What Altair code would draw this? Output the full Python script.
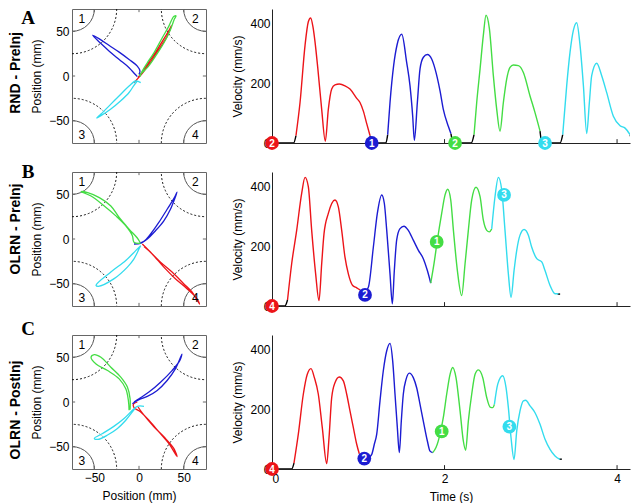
import altair as alt
import pandas as pd

# ------------------------------------------------------------------ colours
COLOR_DOMAIN = ["black", "red", "blue", "green", "cyan"]
COLOR_RANGE = ["#000000", "#ec1419", "#1c1cd2", "#44dd44", "#33dcee"]

# ------------------------------------------------------------------ target layout (mm)
TARGET_X = [-75, 75, -75, 75]
TARGET_Y = [75, 75, -75, -75]
CORNER_LBL = ["1", "2", "3", "4"]
CORNER_LBL_X = [-64, 63, -64, 63]
CORNER_LBL_Y = [64, 64, -66, -66]
POS_TICKS = [-50, 0, 50]
TIME_TICKS = [0, 2, 4]
VEL_TICKS = [0, 200, 400]

# ------------------------------------------------------------------ A: trajectories (mm)
A_red_x = [-5.6, 3.7, 11.1, 18.5, 25.9, 31.5, 36.3, 34.4, 27.8, 20.4, 13.0, 5.6, -1.1]
A_red_y = [-7.4, 3.0, 13.0, 24.1, 35.2, 44.4, 56.3, 52.6, 41.5, 29.6, 18.5, 7.4, -1.9]
A_green_x = [0.0, 9.3, 18.5, 27.8, 35.2, 39.6, 41.5, 38.9, 33.3, 25.9, 16.7, 9.3, 3.7, 1.1]
A_green_y = [0.7, 9.3, 22.2, 37.0, 51.9, 63.7, 67.4, 66.7, 55.6, 42.6, 25.9, 14.8, 5.6, -0.7]
A_blue_x = [-1.9, -4.4, -11.1, -22.2, -33.3, -42.6, -51.9, -44.4, -33.3, -22.2, -11.1, -1.9, 1.1, 0.0]
A_blue_y = [-0.7, 1.9, 9.3, 18.5, 27.8, 36.3, 45.6, 41.5, 34.1, 26.7, 18.5, 11.1, 5.6, 1.9]
A_cyan_x = [1.9, -3.7, -11.1, -20.4, -31.5, -42.6, -47.4, -42.6, -31.5, -20.4, -11.1, -5.6, -1.9]
A_cyan_y = [-7.4, -5.6, -11.1, -20.4, -31.5, -42.6, -47.0, -44.4, -37.0, -27.8, -18.5, -10.4, -5.6]

# ------------------------------------------------------------------ B: trajectories (mm)
B_red_x = [3.7, 13.0, 24.1, 37.0, 50.0, 59.3, 67.8, 64.8, 53.7, 40.7, 27.8, 14.8, 5.6]
B_red_y = [-5.6, -14.8, -25.9, -37.0, -50.0, -59.3, -73.0, -66.7, -55.6, -44.4, -31.5, -16.7, -8.5]
B_blue_x = [-5.6, 1.9, 9.3, 18.5, 27.8, 35.2, 42.6, 39.6, 31.5, 22.2, 13.0, 5.6, -1.9]
B_blue_y = [-5.6, -4.8, 0.0, 9.3, 20.4, 33.3, 52.6, 46.3, 33.3, 18.5, 5.6, -2.6, -5.6]
B_green_x = [1.9, -5.6, -7.4, -14.8, -25.9, -38.9, -53.7, -64.8, -57.4, -44.4, -31.5, -22.2, -11.1, -1.9, 1.1]
B_green_y = [-4.8, -3.7, 3.7, 14.8, 25.9, 37.0, 48.1, 53.0, 51.9, 46.3, 37.0, 24.1, 11.1, 1.1, -3.7]
B_cyan_x = [1.9, -3.7, -14.8, -31.5, -48.1, -45.6, -27.8, -13.0, -5.6, 0.0, 1.9]
B_cyan_y = [-7.4, -13.0, -24.1, -37.0, -51.9, -53.0, -44.4, -31.5, -22.2, -11.1, -7.4]

# ------------------------------------------------------------------ C: trajectories (mm)
C_green_x = [-11.1, -11.9, -14.8, -22.2, -35.2, -48.1, -53.7, -50.0, -42.6, -31.5, -20.4, -13.0, -10.0, -10.0]
C_green_y = [-9.3, 1.9, 14.8, 25.9, 35.2, 42.6, 50.0, 53.0, 50.0, 38.9, 27.8, 16.7, 3.7, -8.5]
C_blue_x = [-7.4, 0.0, 9.3, 20.4, 31.5, 40.7, 48.1, 45.6, 37.0, 24.1, 11.1, 0.0, -5.6]
C_blue_y = [-1.9, 2.6, 6.3, 13.0, 24.1, 37.0, 53.7, 46.3, 35.2, 22.2, 11.1, 3.7, 0.0]
C_red_x = [-1.9, -6.3, -5.6, 1.9, 11.1, 22.2, 33.3, 42.6, 38.9, 27.8, 16.7, 5.6, -1.1]
C_red_y = [0.0, -2.6, -6.3, -11.1, -20.4, -33.3, -46.3, -61.1, -51.9, -38.9, -27.8, -14.8, -5.6]
C_cyan_x = [5.6, -1.9, -7.4, -16.7, -27.8, -40.7, -50.0, -46.3, -35.2, -24.1, -14.8, -7.4, -3.7]
C_cyan_y = [-4.8, -4.8, -9.3, -18.5, -27.0, -35.2, -40.7, -41.9, -37.0, -29.6, -20.4, -11.1, -6.3]

# ------------------------------------------------------------------ A: velocity (s, mm/s)
A_black = [([0, 0.25, 0.278], [0, 0, 25]),
           ([1.136, 1.16, 1.32, 1.341], [25, 0, 0, 28]),
           ([2.075, 2.10, 2.31, 2.342], [31, 0, 0, 28]),
           ([3.107, 3.13, 3.34, 3.370], [40, 0, 0, 28]),
           ([4.151, 4.19, 4.30], [28, 0, 0])]
A_red_t = [0.278, 0.325, 0.383, 0.421, 0.448, 0.475, 0.499, 0.530, 0.576, 0.618, 0.653, 0.692, 0.730, 0.780, 0.846, 0.904, 0.982, 1.020, 1.059, 1.098, 1.136]
A_red_v = [25, 136, 328, 407, 420, 390, 339, 254, 113, 6, 113, 181, 195, 198, 192, 181, 150, 136, 107, 65, 25]
A_blue_t = [1.341, 1.368, 1.41, 1.45, 1.504, 1.561, 1.600, 1.631, 1.650, 1.685, 1.716, 1.755, 1.801, 1.851, 1.890, 1.948, 1.986, 2.044, 2.075]
A_blue_v = [28, 136, 260, 330, 365, 271, 192, 90, 9, 136, 249, 288, 297, 282, 249, 175, 113, 56, 31]
A_green_t = [2.342, 2.373, 2.412, 2.450, 2.481, 2.520, 2.566, 2.605, 2.643, 2.682, 2.721, 2.759, 2.798, 2.856, 2.914, 2.991, 3.049, 3.107]
A_green_v = [28, 136, 249, 362, 429, 384, 226, 113, 40, 136, 215, 254, 262, 260, 237, 158, 102, 40]
A_cyan_t = [3.370, 3.416, 3.455, 3.494, 3.532, 3.571, 3.610, 3.648, 3.679, 3.706, 3.764, 3.822, 3.880, 3.957, 4.035, 4.093, 4.151]
A_cyan_v = [28, 192, 305, 379, 404, 328, 192, 32, 136, 226, 268, 226, 169, 90, 58, 50, 28]
A_mark_t = [0, 1.156, 2.122, 3.165]
A_mark_v = [0, 0, 0, 0]
A_mark_lbl = ["2", "1", "2", "3"]

# ------------------------------------------------------------------ B: velocity
B_black = [([0, 0.15, 0.18], [0, 0, 20]),
           ([3.31, 3.34], [40, 40])]
B_red_t = [0.18, 0.228, 0.286, 0.344, 0.383, 0.421, 0.460, 0.506, 0.545, 0.576, 0.603, 0.653, 0.730, 0.769, 0.808, 0.846, 0.885, 0.935, 0.982, 1.020]
B_red_v = [20, 142, 254, 378, 432, 401, 254, 108, 18, 142, 243, 311, 356, 333, 254, 164, 108, 69, 61, 54]
B_blue_t = [1.020, 1.067, 1.117, 1.175, 1.221, 1.272, 1.302, 1.330, 1.368, 1.395, 1.418, 1.445, 1.484, 1.530, 1.580, 1.638, 1.697, 1.754, 1.801, 1.840]
B_blue_v = [54, 46, 63, 198, 311, 373, 345, 254, 108, 7, 119, 221, 260, 268, 254, 221, 187, 159, 119, 77]
B_green_t = [1.840, 1.878, 1.917, 1.967, 2.006, 2.037, 2.072, 2.103, 2.149, 2.199, 2.238, 2.276, 2.315, 2.365, 2.412, 2.450, 2.489, 2.520, 2.547]
B_green_v = [77, 142, 221, 311, 373, 392, 356, 254, 119, 35, 142, 254, 356, 399, 367, 288, 254, 249, 259]
B_cyan_t = [2.547, 2.585, 2.624, 2.663, 2.701, 2.740, 2.771, 2.806, 2.837, 2.875, 2.922, 2.972, 3.010, 3.069, 3.127, 3.165, 3.223, 3.281, 3.320]
B_cyan_v = [259, 367, 432, 390, 254, 108, 29, 119, 187, 238, 257, 238, 198, 159, 148, 119, 69, 41, 41]
B_mark_t = [0, 1.078, 1.909, 2.690]
B_mark_v = [0, 37, 215, 373]
B_mark_lbl = ["4", "2", "1", "3"]

# ------------------------------------------------------------------ C: velocity
C_black = [([0, 0.228, 0.255], [0, 0, 20]),
           ([3.33, 3.36], [33, 33])]
C_red_t = [0.255, 0.305, 0.363, 0.409, 0.452, 0.491, 0.537, 0.583, 0.634, 0.661, 0.692, 0.730, 0.780, 0.827, 0.866, 0.904, 0.943, 0.982, 1.012]
C_red_v = [20, 117, 251, 318, 337, 307, 251, 139, 18, 105, 240, 290, 309, 296, 251, 195, 139, 83, 51]
C_blue_t = [1.012, 1.059, 1.117, 1.156, 1.186, 1.214, 1.252, 1.290, 1.330, 1.368, 1.399, 1.426, 1.453, 1.476, 1.499, 1.522, 1.554, 1.592, 1.638, 1.677, 1.716, 1.754, 1.801, 1.832, 1.863]
C_blue_v = [51, 38, 38, 49, 83, 117, 229, 329, 397, 422, 363, 251, 139, 55, 161, 251, 301, 322, 307, 273, 217, 161, 94, 60, 55]
C_green_t = [1.863, 1.901, 1.948, 1.986, 2.025, 2.064, 2.095, 2.133, 2.180, 2.218, 2.245, 2.276, 2.315, 2.354, 2.392, 2.443, 2.489, 2.528, 2.559, 2.578]
C_green_v = [55, 72, 117, 173, 251, 318, 341, 307, 195, 94, 63, 161, 251, 318, 333, 307, 240, 208, 206, 217]
C_cyan_t = [2.578, 2.617, 2.674, 2.713, 2.740, 2.771, 2.806, 2.837, 2.875, 2.914, 2.941, 2.991, 3.049, 3.107, 3.165, 3.223, 3.281, 3.339]
C_cyan_v = [217, 285, 313, 273, 206, 105, 32, 128, 195, 229, 231, 212, 189, 150, 100, 66, 44, 32]
C_mark_t = [0, 1.070, 1.967, 2.752]
C_mark_v = [0, 35, 126, 142]
C_mark_lbl = ["4", "2", "1", "3"]

# ------------------------------------------------------------------ geometry / style
PW = 134          # square panel size (px)
RW = 358          # velocity panel width (px)
P_LIM = 75        # position axis half-range (mm)
T_MAX = 4.15
V_MAX = 450
R_OUT_MM = 50
R_IN_MM = 25
TICK_MM = 3.5
TICK_V = 13
FONT = "Liberation Sans"
FRAME = "#666666"
AXC = "#222222"
cscale = alt.Scale(domain=COLOR_DOMAIN, range=COLOR_RANGE)
TXT = dict(labelFontSize=12, titleFontSize=12, titleFontWeight="normal",
           labelColor="#000000", titleColor="#000000", grid=False, ticks=False,
           labelFont=FONT, titleFont=FONT)


def mm_px(mm):
    return mm * PW / (2 * P_LIM)


def position_panel(trajs, row_title, title_y, letter, letter_y, show_x):
    rows = []
    for k, (c, xs, ys) in enumerate(trajs):
        for i, (a, b) in enumerate(zip(xs, ys)):
            rows.append({"seg": k, "c": c, "x": a, "y": b, "i": i})
    df = pd.DataFrame(rows)
    sc = alt.Scale(domain=[-P_LIM, P_LIM], nice=False, zero=False)
    yax = alt.Axis(values=POS_TICKS, title="Position (mm)", domain=False,
                   labelPadding=3, titlePadding=5, **TXT)
    if show_x:
        xax = alt.Axis(values=POS_TICKS, title="Position (mm)", domain=False,
                       labelPadding=3, titlePadding=7, **TXT)
    else:
        xax = alt.Axis(values=POS_TICKS, title=None, labels=False, domain=False, **TXT)

    def X(f):
        return alt.X(f, type="quantitative", scale=sc, axis=xax)

    def Y(f):
        return alt.Y(f, type="quantitative", scale=sc, axis=yax)

    tdf = pd.DataFrame({"x": TARGET_X, "y": TARGET_Y})
    outer = alt.Chart(tdf).mark_point(
        shape="circle", filled=False, size=(2 * mm_px(R_OUT_MM)) ** 2,
        strokeDash=[2, 2], strokeWidth=0.9, color="#000000", opacity=1, clip=True
    ).encode(x=X("x"), y=Y("y"))
    inner = alt.Chart(tdf).mark_point(
        shape="circle", filled=False, size=(2 * mm_px(R_IN_MM)) ** 2,
        strokeWidth=1, color="#555555", opacity=1, clip=True
    ).encode(x=X("x"), y=Y("y"))

    trows = []
    for t in POS_TICKS:
        trows.append({"x": t, "y": P_LIM, "x2": t, "y2": P_LIM - TICK_MM})
        trows.append({"x": t, "y": -P_LIM, "x2": t, "y2": -P_LIM + TICK_MM})
        trows.append({"x": -P_LIM, "y": t, "x2": -P_LIM + TICK_MM, "y2": t})
        trows.append({"x": P_LIM, "y": t, "x2": P_LIM - TICK_MM, "y2": t})
    ticks = alt.Chart(pd.DataFrame(trows)).mark_rule(color=FRAME, strokeWidth=1).encode(
        x=X("x"), y=Y("y"), x2="x2:Q", y2="y2:Q")

    lines = alt.Chart(df).mark_line(strokeWidth=1.3, clip=True, interpolate="catmull-rom").encode(
        x=X("x"), y=Y("y"),
        color=alt.Color("c:N", scale=cscale, legend=None),
        detail="seg:N", order="i:Q")

    cdf = pd.DataFrame({"x": CORNER_LBL_X, "y": CORNER_LBL_Y, "lbl": CORNER_LBL})
    corners = alt.Chart(cdf).mark_text(fontSize=12, color="#000000", font=FONT).encode(
        x=X("x"), y=Y("y"), text="lbl:N")

    rt = alt.Chart(pd.DataFrame({"lbl": [row_title]})).mark_text(
        angle=270, fontSize=14, fontWeight="bold", font=FONT, color="#000000",
        align="center", baseline="middle"
    ).encode(x=alt.value(-56), y=alt.value(title_y), text="lbl:N")
    lt = alt.Chart(pd.DataFrame({"lbl": [letter]})).mark_text(
        fontSize=19, fontWeight="bold", font="Liberation Serif", color="#000000",
        align="center", baseline="alphabetic"
    ).encode(x=alt.value(-44), y=alt.value(letter_y), text="lbl:N")

    return alt.layer(outer, inner, ticks, lines, corners, rt, lt).properties(
        width=PW, height=PW, view=alt.ViewBackground(stroke=FRAME, strokeWidth=1))


def velocity_panel(blacks, colored, mk_t, mk_v, mk_lbl, show_x):
    rows = []
    segs = [("black", t, v) for (t, v) in blacks] + colored
    for k, (c, ts, vs) in enumerate(segs):
        for i, (a, b) in enumerate(zip(ts, vs)):
            rows.append({"seg": k, "c": c, "t": a, "v": b, "i": i})
    df = pd.DataFrame(rows)
    xs = alt.Scale(domain=[0, T_MAX], nice=False, zero=False)
    ys = alt.Scale(domain=[0, V_MAX], nice=False, zero=False)
    if show_x:
        xax = alt.Axis(values=TIME_TICKS, title="Time (s)", domainColor=AXC,
                       labelPadding=4, titlePadding=7, **TXT)
    else:
        xax = alt.Axis(values=TIME_TICKS, title=None, labels=False, domainColor=AXC, **TXT)
    yax = alt.Axis(values=VEL_TICKS, title="Velocity (mm/s)", domainColor=AXC,
                   labelPadding=2, titlePadding=5, **TXT)

    def X(f):
        return alt.X(f, type="quantitative", scale=xs, axis=xax)

    def Y(f):
        return alt.Y(f, type="quantitative", scale=ys, axis=yax)

    lines = alt.Chart(df).mark_line(strokeWidth=1.4, clip=True, interpolate="monotone").encode(
        x=X("t"), y=Y("v"),
        color=alt.Color("c:N", scale=cscale, legend=None),
        detail="seg:N", order="i:Q")
    tdf = pd.DataFrame({"t": TIME_TICKS[1:], "v0": [0] * 2, "v1": [TICK_V] * 2})
    ticks = alt.Chart(tdf).mark_rule(color=AXC, strokeWidth=1).encode(
        x=X("t"), y=Y("v0"), y2="v1:Q")
    mdf = pd.DataFrame({"t": mk_t, "v": mk_v, "lbl": mk_lbl,
                        "c": ["red", "blue", "green", "cyan"]})
    dots = alt.Chart(mdf).mark_circle(size=190, opacity=1, clip=False).encode(
        x=X("t"), y=Y("v"), color=alt.Color("c:N", scale=cscale, legend=None))
    nums = alt.Chart(mdf).mark_text(
        color="#ffffff", fontSize=10, fontWeight="bold", font=FONT,
        align="center", baseline="middle", dy=0.5
    ).encode(x=X("t"), y=Y("v"), text="lbl:N")
    return alt.layer(lines, ticks, dots, nums).properties(
        width=RW, height=PW, view=alt.ViewBackground(stroke="transparent"))


leftA = position_panel([("red", A_red_x, A_red_y), ("green", A_green_x, A_green_y),
                        ("blue", A_blue_x, A_blue_y), ("cyan", A_cyan_x, A_cyan_y)],
                       "RND - PreInj", 64, "A", 15, False)
leftB = position_panel([("red", B_red_x, B_red_y), ("blue", B_blue_x, B_blue_y),
                        ("green", B_green_x, B_green_y), ("cyan", B_cyan_x, B_cyan_y)],
                       "OLRN - PreInj", 57, "B", 6, False)
leftC = position_panel([("red", C_red_x, C_red_y), ("blue", C_blue_x, C_blue_y),
                        ("green", C_green_x, C_green_y), ("cyan", C_cyan_x, C_cyan_y)],
                       "OLRN - PostInj", 75, "C", 0, True)

rightA = velocity_panel(A_black, [("red", A_red_t, A_red_v), ("blue", A_blue_t, A_blue_v),
                                  ("green", A_green_t, A_green_v), ("cyan", A_cyan_t, A_cyan_v)],
                        A_mark_t, A_mark_v, A_mark_lbl, False)
rightB = velocity_panel(B_black, [("red", B_red_t, B_red_v), ("blue", B_blue_t, B_blue_v),
                                  ("green", B_green_t, B_green_v), ("cyan", B_cyan_t, B_cyan_v)],
                        B_mark_t, B_mark_v, B_mark_lbl, False)
rightC = velocity_panel(C_black, [("red", C_red_t, C_red_v), ("blue", C_blue_t, C_blue_v),
                                  ("green", C_green_t, C_green_v), ("cyan", C_cyan_t, C_cyan_v)],
                        C_mark_t, C_mark_v, C_mark_lbl, True)

chart = alt.concat(
    leftA, rightA, leftB, rightB, leftC, rightC,
    columns=2, spacing={"row": 29, "column": 66}, bounds="flush"
).properties(padding=0).configure(font=FONT)

chart.save("out.html", embed_options={"renderer": "svg", "actions": False})
